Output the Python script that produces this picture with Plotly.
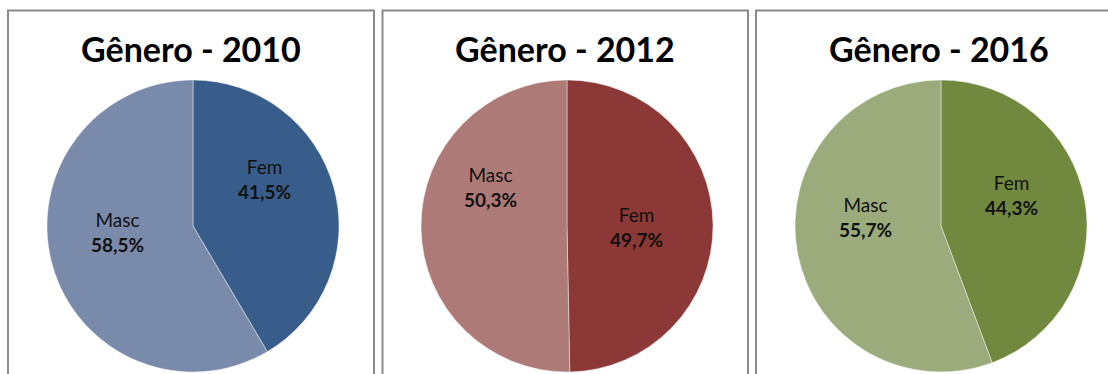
import plotly.graph_objects as go

W, H = 1108, 374

years = ["2010", "2012", "2016"]
categories = ["Fem", "Masc"]
fem_values = [41.5, 49.7, 44.3]
masc_values = [58.5, 50.3, 55.7]
fem_colors = ["#385D8A", "#8C3836", "#71893F"]
masc_colors = ["#7A8AAB", "#AD7A78", "#9BAB7B"]

# layout (pixels): pie centers, radius, panel borders, label centers
pie_cx = [193, 567, 941]
pie_cy = 226
radius = 146
panels = [(8, 374), (382.5, 748), (756, 1120)]
title_y = 48
label_pos = {
    "Fem": [(264, 179), (636, 227), (1011, 195)],
    "Masc": [(117, 232), (490, 187), (865, 217)],
}

def px(x):
    return x / W

def py(y):
    return 1 - y / H

fig = go.Figure()
annotations = []
shapes = []
for i, yr in enumerate(years):
    vals = [fem_values[i], masc_values[i]]
    cx = pie_cx[i]
    fig.add_trace(go.Pie(
        labels=categories,
        values=vals,
        sort=False,
        direction="clockwise",
        rotation=0,
        marker=dict(colors=[fem_colors[i], masc_colors[i]],
                    line=dict(color="rgba(255,255,255,0.6)", width=0.7)),
        textinfo="none",
        hoverinfo="label+percent",
        showlegend=False,
        domain=dict(x=[px(cx - radius), px(cx + radius)],
                    y=[py(pie_cy + radius), py(pie_cy - radius)]),
    ))
    x0, x1 = panels[i]
    shapes.append(dict(type="rect", xref="paper", yref="paper",
                       x0=px(x0), x1=px(x1), y0=-0.2, y1=py(10.5),
                       line=dict(color="#8a8a8a", width=2), fillcolor="rgba(0,0,0,0)",
                       layer="below"))
    annotations.append(dict(
        x=px(cx - 2), y=py(title_y), xref="paper", yref="paper",
        text="<b>Gênero - " + yr + "</b>", showarrow=False,
        font=dict(family="Lato", size=34, color="#000000"),
        xanchor="center", yanchor="middle"))
    for cat, v in zip(categories, vals):
        lx, ly = label_pos[cat][i]
        txt = cat + "<br><b>" + f"{v:.1f}".replace(".", ",") + "%</b>"
        annotations.append(dict(
            x=px(lx), y=py(ly), xref="paper", yref="paper",
            text=txt, showarrow=False,
            font=dict(family="Lato", size=19, color="#111111"),
            xanchor="center", yanchor="middle"))

fig.update_layout(
    width=W, height=H,
    margin=dict(l=0, r=0, t=0, b=0),
    paper_bgcolor="white",
    plot_bgcolor="white",
    annotations=annotations,
    shapes=shapes,
)
fig.write_html("out.html")
